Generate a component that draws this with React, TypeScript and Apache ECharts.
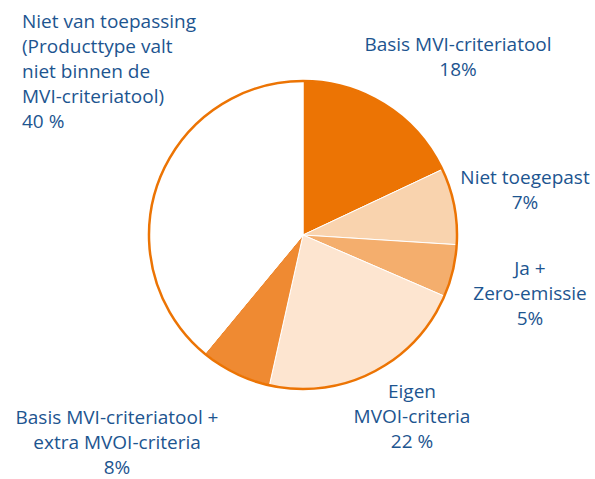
import React, { useEffect, useRef } from "react";
import * as echarts from "echarts";

const categories = [
  "Basis MVI-criteriatool",
  "Niet toegepast",
  "Ja +\nZero-emissie",
  "Eigen\nMVOI-criteria",
  "Basis MVI-criteriatool +\nextra MVOI-criteria",
  "Niet van toepassing\n(Producttype valt\nniet binnen de\nMVI-criteriatool)",
];
// slice sizes as drawn in the picture
const sliceValues = [18, 8, 5.5, 22, 7.5, 39];
// percentages as printed in the labels
const shownPercents = ["18%", "7%", "5%", "22 %", "8%", "40 %"];

const sliceColors = ["#ec7404", "#f9d3ae", "#f4ae6d", "#fde5d0", "#ef8a32", "#ffffff"];
const labelPos: { x: number; y: number; align: "left" | "center" }[] = [
  { x: 458, y: 56, align: "center" },
  { x: 525, y: 189, align: "center" },
  { x: 530, y: 293, align: "center" },
  { x: 412, y: 416, align: "center" },
  { x: 117, y: 442, align: "center" },
  { x: 22, y: 71, align: "left" },
];

export default function App() {
  const ref = useRef<HTMLDivElement>(null);
  useEffect(() => {
    if (!ref.current) return;
    const chart = echarts.init(ref.current, null, { renderer: "svg" });
    const textColor = "#1d5590";
    chart.setOption({
      animation: false,
      backgroundColor: "#ffffff",
      series: [
        {
          type: "pie",
          center: [303, 235],
          radius: [0, 154],
          startAngle: 90,
          clockwise: true,
          silent: true,
          data: categories.map((name, i) => ({
            name,
            value: sliceValues[i],
            itemStyle: { color: sliceColors[i] },
            label: {
              align: labelPos[i].align,
            },
          })),
          itemStyle: { borderColor: "#ffffff", borderWidth: 1 },
          label: {
            show: true,
            position: "outside",
            alignTo: "none",
            overflow: "none",
            formatter: (p: any) => `${p.name}\n${shownPercents[p.dataIndex]}`,
            color: textColor,
            fontFamily: "Open Sans",
            fontSize: 19,
            lineHeight: 25,
          },
          labelLine: { show: false },
          labelLayout: (params: any) => {
            const lp = labelPos[params.dataIndex];
            return { x: lp.x, y: lp.y, align: lp.align, verticalAlign: "middle", width: 300 };
          },
        },
        {
          type: "pie",
          center: [303, 235],
          radius: [0, 154],
          silent: true,
          z: 5,
          label: { show: false },
          labelLine: { show: false },
          data: [
            {
              value: 1,
              name: "outline",
              itemStyle: { color: "rgba(0,0,0,0)", borderColor: "#ec7404", borderWidth: 2.5 },
            },
          ],
        },
      ],
    });
    return () => chart.dispose();
  }, []);
  return (
    <div
      ref={ref}
      style={{ position: "fixed", left: 0, top: 0, width: 595, height: 479 }}
    />
  );
}
